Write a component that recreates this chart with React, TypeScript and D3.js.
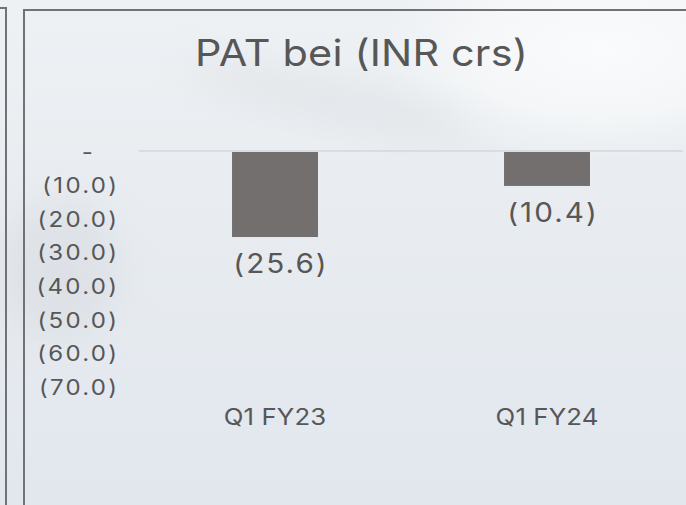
import React from 'react';
import * as d3 from 'd3';

const title = 'PAT bei (INR crs)';
const categories = ['Q1 FY23', 'Q1 FY24'];
const patValues = [-25.6, -10.4];
const yTicks = [0, -10, -20, -30, -40, -50, -60, -70];
const yDomain = [-70, 0];

const W = 686;
const H = 505;
const FONT = 'Inter, "DejaVu Sans", sans-serif';
const TEXT = '#575757';
const BAR = '#736f6e';
const SX = 1.12;

const fmt = (v: number) => (v === 0 ? '-' : `(${Math.abs(v).toFixed(1)})`);

type TxtProps = {
  x: number;
  y: number;
  size: number;
  ls: number;
  anchor: 'start' | 'middle' | 'end';
  baseline?: string;
  children: React.ReactNode;
};

function Txt({ x, y, size, ls, anchor, baseline, children }: TxtProps) {
  return (
    <text
      transform={`translate(${x},${y}) scale(${SX},1)`}
      textAnchor={anchor}
      dominantBaseline={baseline}
      fontFamily={FONT}
      fontSize={size}
      letterSpacing={ls}
      fill={TEXT}
    >
      {children}
    </text>
  );
}

export default function App() {
  const x = d3
    .scaleBand<string>()
    .domain(categories)
    .range([139, 683])
    .paddingInner(0.684)
    .paddingOuter(0.342);
  const y = d3.scaleLinear().domain(yDomain).range([386.2, 151]);
  const data = categories.map((c, i) => ({ c, v: patValues[i] }));

  return (
    <svg
      width={W}
      height={H}
      viewBox={`0 0 ${W} ${H}`}
      style={{ position: 'absolute', left: 0, top: 0, display: 'block' }}
    >
      <defs>
        <linearGradient id="bg" x1="0" y1="0" x2="0" y2="1">
          <stop offset="0" stopColor="#eef1f4" />
          <stop offset="0.35" stopColor="#e9edf1" />
          <stop offset="1" stopColor="#e2e7ee" />
        </linearGradient>
        <radialGradient id="glow" cx="0.5" cy="0.5" r="0.5">
          <stop offset="0" stopColor="#fafbfc" stopOpacity="1" />
          <stop offset="0.6" stopColor="#f6f8f9" stopOpacity="0.8" />
          <stop offset="1" stopColor="#f3f5f7" stopOpacity="0" />
        </radialGradient>
        <filter id="blur" x="-50%" y="-50%" width="200%" height="200%">
          <feGaussianBlur stdDeviation="18" />
        </filter>
      </defs>
      <rect x={0} y={0} width={W} height={H} fill="url(#bg)" />
      <ellipse cx={600} cy={50} rx={230} ry={110} fill="url(#glow)" />
      <ellipse cx={330} cy={100} rx={150} ry={20} fill="#d8dbde" opacity={0.45} filter="url(#blur)" transform="rotate(12 330 100)" />
      <ellipse cx={60} cy={270} rx={60} ry={70} fill="#d4d9df" opacity={0.5} filter="url(#blur)" />

      {/* frames */}
      <path d="M0,8 H6 V505" fill="none" stroke="#727272" strokeWidth={2} />
      <path d={`M24,${H + 5} V10 H${W + 5}`} fill="none" stroke="#727272" strokeWidth={2} />

      {/* title */}
      <Txt x={361.5} y={66} size={37} ls={0.15} anchor="middle">
        {title}
      </Txt>

      {/* zero line */}
      <line x1={139} x2={683} y1={y(0)} y2={y(0)} stroke="#d5d7d9" strokeWidth={1.5} />

      {/* y tick labels */}
      {yTicks.map((t) => (
        <Txt
          key={t}
          x={t === 0 ? 95 : 119.2}
          y={y(t) + 1}
          size={21.5}
          ls={2}
          anchor="end"
          baseline="central"
        >
          {fmt(t)}
        </Txt>
      ))}

      {/* bars */}
      {data.map((d) => (
        <rect
          key={d.c}
          x={x(d.c)}
          y={y(0) + 1}
          width={x.bandwidth()}
          height={y(d.v) - y(0) - 1}
          fill={BAR}
        />
      ))}

      {/* data labels */}
      {data.map((d) => (
        <Txt
          key={d.c}
          x={(x(d.c) as number) + x.bandwidth() / 2 + 6}
          y={y(d.v) + 36}
          size={26.5}
          ls={1.8}
          anchor="middle"
        >
          {fmt(d.v)}
        </Txt>
      ))}

      {/* category labels */}
      {categories.map((c) => (
        <Txt
          key={c}
          x={(x(c) as number) + x.bandwidth() / 2}
          y={425}
          size={23}
          ls={0.1}
          anchor="middle"
        >
          {c}
        </Txt>
      ))}
    </svg>
  );
}
